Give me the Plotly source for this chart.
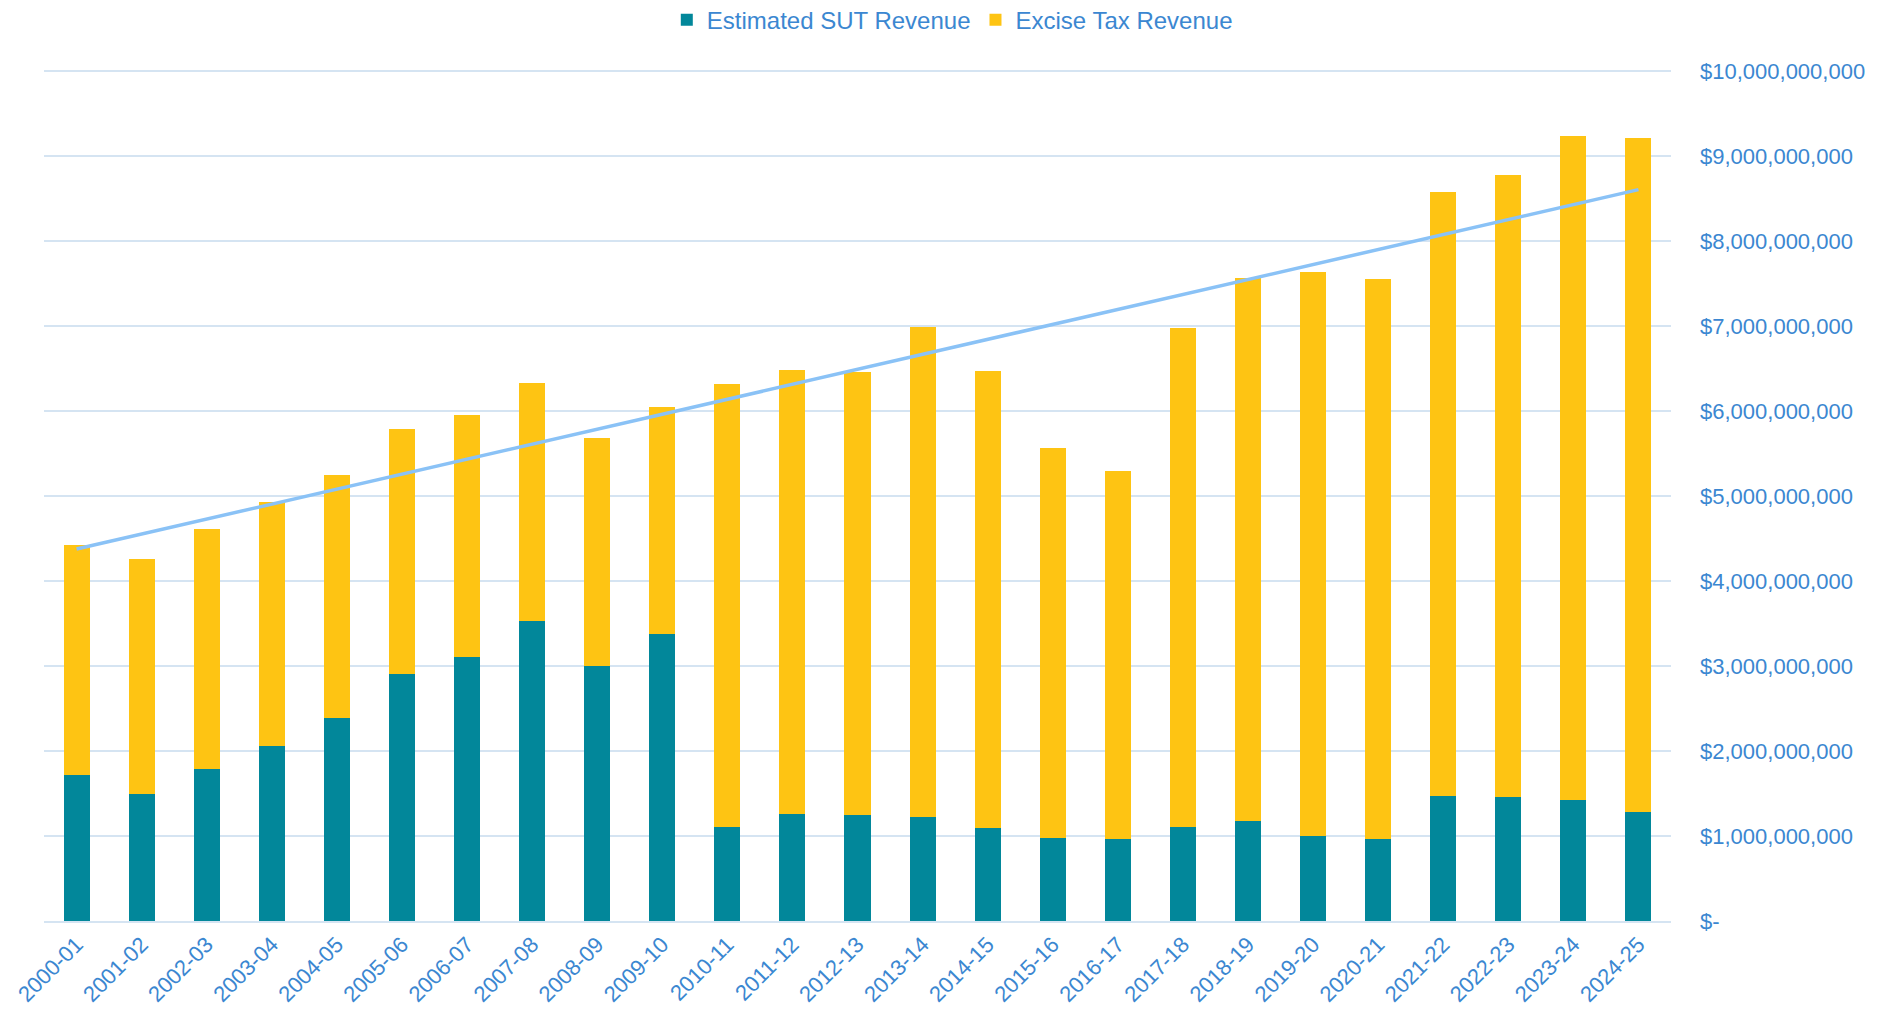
import plotly.graph_objects as go

# fiscal years
years = ['2000-01', '2001-02', '2002-03', '2003-04', '2004-05', '2005-06',
         '2006-07', '2007-08', '2008-09', '2009-10', '2010-11', '2011-12',
         '2012-13', '2013-14', '2014-15', '2015-16', '2016-17', '2017-18',
         '2018-19', '2019-20', '2020-21', '2021-22', '2022-23', '2023-24',
         '2024-25']

# revenue in dollars
sut_revenue = [1.722e9, 1.494e9, 1.792e9, 2.063e9, 2.392e9, 2.910e9,
               3.106e9, 3.525e9, 3.004e9, 3.380e9, 1.106e9, 1.262e9,
               1.250e9, 1.228e9, 1.094e9, 0.972e9, 0.965e9, 1.106e9,
               1.173e9, 1.004e9, 0.965e9, 1.465e9, 1.453e9, 1.421e9,
               1.280e9]
excise_revenue = [2.698e9, 2.765e9, 2.820e9, 2.866e9, 2.859e9, 2.874e9,
                  2.847e9, 2.804e9, 2.678e9, 2.663e9, 5.208e9, 5.216e9,
                  5.205e9, 5.760e9, 5.373e9, 4.589e9, 4.325e9, 5.870e9,
                  6.392e9, 6.631e9, 6.592e9, 7.108e9, 7.327e9, 7.814e9,
                  7.932e9]

# linear trend line end points
trend_x = [years[0], years[-1]]
trend_y = [4.376e9, 8.604e9]

# y axis ticks
y_ticks = [0, 1e9, 2e9, 3e9, 4e9, 5e9, 6e9, 7e9, 8e9, 9e9, 10e9]
y_labels = ['$-', '$1,000,000,000', '$2,000,000,000', '$3,000,000,000',
            '$4,000,000,000', '$5,000,000,000', '$6,000,000,000',
            '$7,000,000,000', '$8,000,000,000', '$9,000,000,000',
            '$10,000,000,000']

TEXT = '#3B87D1'
GRID = '#D5E4F2'

fig = go.Figure()
fig.add_trace(go.Bar(name='Estimated SUT Revenue', x=years, y=sut_revenue,
                     marker_color='#02879A', marker_line_width=0))
fig.add_trace(go.Bar(name='Excise Tax Revenue', x=years, y=excise_revenue,
                     marker_color='#FEC413', marker_line_width=0))
fig.add_trace(go.Scatter(x=trend_x, y=trend_y, mode='lines',
                         line=dict(color='#8AC2F6', width=3.5),
                         showlegend=False, hoverinfo='skip'))

# the page body adds an 8px offset, so margins are shifted to compensate
fig.update_layout(
    barmode='stack',
    bargap=0.6,
    width=1900,
    height=1016,
    autosize=False,
    plot_bgcolor='white',
    paper_bgcolor='white',
    margin=dict(l=36, r=237, t=60, b=103),
    font=dict(family='Arial, Liberation Sans', size=22, color=TEXT),
    legend=dict(orientation='h', xref='container', yref='container',
                x=0.497, xanchor='center', y=0.988, yanchor='middle',
                font=dict(size=24, color=TEXT), traceorder='normal',
                itemwidth=30),
)
fig.update_xaxes(type='category', tickangle=-45, showgrid=False,
                 showline=True, linecolor=GRID, linewidth=2, ticks='',
                 automargin=False, tickfont=dict(size=22, color=TEXT))
# small headroom above 10B so its gridline is drawn
fig.update_yaxes(side='right', range=[0, 10.035e9], tickvals=y_ticks,
                 ticktext=y_labels, showgrid=True, gridcolor=GRID,
                 gridwidth=1.5, zeroline=False, showline=False, ticks='',
                 ticklabelstandoff=28, automargin=False,
                 tickfont=dict(size=22, color=TEXT))

fig.write_html("out.html")
